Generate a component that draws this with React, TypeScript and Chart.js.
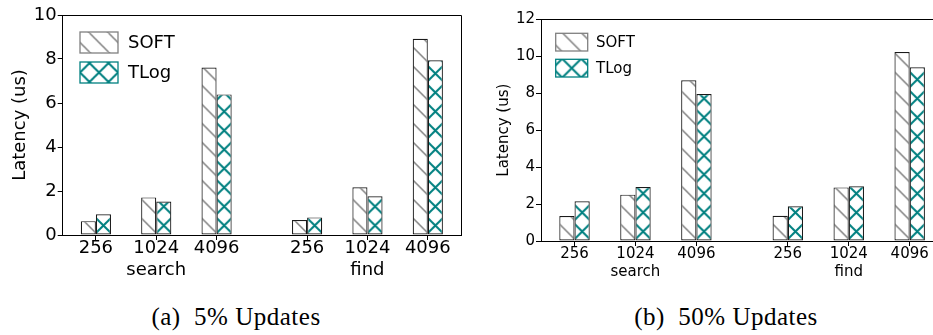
import React, { useEffect, useRef } from "react";
import { Chart, registerables } from "chart.js";

Chart.register(...registerables);

// ---- data ----
const groupPositions = [0, 1, 2, 3.5, 4.5, 5.5];
const sizeLabels = ["256", "1024", "4096", "256", "1024", "4096"];
const opLabels = ["", "search", "", "", "find", ""];
const seriesNames = ["SOFT", "TLog"];

const softA = [0.63, 1.71, 7.61, 0.68, 2.17, 8.92];
const tlogA = [0.94, 1.52, 6.39, 0.8, 1.76, 7.94];
const softB = [1.35, 2.51, 8.7, 1.37, 2.9, 10.23];
const tlogB = [2.15, 2.92, 7.96, 1.88, 2.96, 9.4];

const yTicksA = [0, 2, 4, 6, 8, 10];
const yTicksB = [0, 2, 4, 6, 8, 10, 12];

const captionA = "(a)  5% Updates";
const captionB = "(b)  50% Updates";

// ---- styles ----
const FONT = "'DejaVu Sans', sans-serif";
const PERIOD = 19;
const GRAY = "#808080";
const TEAL = "#008080";

function makeTile(kind: "diag" | "cross", color: string, lw: number): HTMLCanvasElement {
  const p = PERIOD;
  const c = document.createElement("canvas");
  c.width = p;
  c.height = p;
  const g = c.getContext("2d")!;
  g.fillStyle = "#ffffff";
  g.fillRect(0, 0, p, p);
  g.strokeStyle = color;
  g.lineWidth = lw;
  g.beginPath();
  for (const o of [-p, 0, p]) {
    g.moveTo(o, 0);
    g.lineTo(o + p, p);
  }
  if (kind === "cross") {
    for (const o of [-p, 0, p]) {
      g.moveTo(o, p);
      g.lineTo(o + p, 0);
    }
  }
  g.stroke();
  return c;
}

function barFill(tile: HTMLCanvasElement, side: number) {
  return (ctx: any) => {
    const chart = ctx.chart;
    const g = chart.ctx as CanvasRenderingContext2D;
    const pat = g.createPattern(tile, "repeat")!;
    const xs = chart.scales && chart.scales.x;
    const ys = chart.scales && chart.scales.y;
    if (!xs || !ys || ctx.type !== "data") return pat;
    const unit = xs.getPixelForValue(1) - xs.getPixelForValue(0);
    const cx = xs.getPixelForValue(groupPositions[ctx.dataIndex]) + (side * unit) / 8;
    const by = ys.getPixelForValue(0);
    pat.setTransform(new DOMMatrix([1, 0, 0, 1, cx - tile.width / 2, by]));
    return pat;
  };
}

interface Cfg {
  soft: number[];
  tlog: number[];
  yTicks: number[];
  yMax: number;
  fontSize: number;
  pad: { top: number; right: number };
  yWidth: number;
  xHeight: number;
  xTickPad: number;
  titlePad: number;
  legend: { x: number; y: number; w: number; h: number; gap: number; tx: number };
}

function makeChart(canvas: HTMLCanvasElement, cfg: Cfg) {
  const diag = makeTile("diag", GRAY, 1.5);
  const cross = makeTile("cross", TEAL, 2);
  const font = { family: FONT, size: cfg.fontSize, lineHeight: 1.2 };

  const spines = {
    id: "spines",
    afterDatasetsDraw(chart: any) {
      const { left, right, top, bottom } = chart.chartArea;
      const g = chart.ctx as CanvasRenderingContext2D;
      g.save();
      g.strokeStyle = "#000";
      g.lineWidth = 1;
      g.beginPath();
      g.moveTo(Math.round(left) - 0.5, Math.round(top) + 0.5);
      g.lineTo(Math.round(right) + 0.5, Math.round(top) + 0.5);
      g.lineTo(Math.round(right) + 0.5, Math.round(bottom) + 0.5);
      g.stroke();
      g.restore();
    },
  };

  const legend = {
    id: "hatchLegend",
    afterDraw(chart: any) {
      const g = chart.ctx as CanvasRenderingContext2D;
      const L = cfg.legend;
      const items = [
        { name: seriesNames[0], tile: diag, edge: GRAY },
        { name: seriesNames[1], tile: cross, edge: TEAL },
      ];
      g.save();
      items.forEach((it, i) => {
        const x = L.x;
        const y = L.y + i * L.gap;
        const pat = g.createPattern(it.tile, "repeat")!;
        pat.setTransform(new DOMMatrix([1, 0, 0, 1, x + L.w / 2 - PERIOD / 2, y + L.h / 2 - PERIOD / 2]));
        g.fillStyle = pat;
        g.fillRect(x, y, L.w, L.h);
        g.strokeStyle = it.edge;
        g.lineWidth = 1.3;
        g.strokeRect(x, y, L.w, L.h);
        g.fillStyle = "#000";
        g.font = `${cfg.fontSize}px ${FONT}`;
        g.textBaseline = "middle";
        g.textAlign = "left";
        g.fillText(it.name, L.tx, y + L.h / 2 + 1);
      });
      g.restore();
    },
  };

  const axisGrid = {
    display: true,
    offset: false,
    drawOnChartArea: false,
    drawTicks: true,
    tickLength: 5,
    color: "#000",
    lineWidth: 1,
  };
  const axisBorder = { display: true, color: "#000", width: 1 };

  return new Chart(canvas, {
    type: "bar",
    data: {
      datasets: [
        {
          label: seriesNames[0],
          data: groupPositions.map((x, i) => ({ x, y: cfg.soft[i] })),
          backgroundColor: barFill(diag, -1) as any,
          borderColor: "#1a1a1a",
          borderWidth: 1.2,
          borderSkipped: false,
        },
        {
          label: seriesNames[1],
          data: groupPositions.map((x, i) => ({ x, y: cfg.tlog[i] })),
          backgroundColor: barFill(cross, 1) as any,
          borderColor: "#1a1a1a",
          borderWidth: 1.2,
          borderSkipped: false,
        },
      ],
    },
    options: {
      responsive: false,
      maintainAspectRatio: false,
      animation: false,
      devicePixelRatio: 1,
      events: [],
      layout: { padding: { top: cfg.pad.top, right: cfg.pad.right, left: 0, bottom: 0 } },
      datasets: { bar: { categoryPercentage: 0.5, barPercentage: 1 } },
      plugins: { legend: { display: false }, tooltip: { enabled: false } },
      scales: {
        x: {
          type: "linear",
          offset: false,
          min: -0.55,
          max: 6.05,
          afterBuildTicks: (s: any) => {
            s.ticks = groupPositions.map((v) => ({ value: v }));
          },
          afterFit: (s: any) => {
            s.height = cfg.xHeight;
          },
          ticks: {
            font,
            color: "#000",
            padding: cfg.xTickPad,
            maxRotation: 0,
            autoSkip: false,
            callback: (_v: any, i: number) =>
              opLabels[i] ? [sizeLabels[i], opLabels[i]] : sizeLabels[i],
          },
          grid: axisGrid,
          border: axisBorder,
        },
        y: {
          type: "linear",
          min: 0,
          max: cfg.yMax,
          afterBuildTicks: (s: any) => {
            s.ticks = cfg.yTicks.map((v) => ({ value: v }));
          },
          afterFit: (s: any) => {
            s.width = cfg.yWidth;
          },
          ticks: { font, color: "#000", padding: 1, callback: (v: any) => String(v) },
          title: {
            display: true,
            text: "Latency (us)",
            font,
            color: "#000",
            padding: { top: cfg.titlePad, bottom: 0 },
          },
          grid: axisGrid,
          border: axisBorder,
        },
      },
    } as any,
    plugins: [spines, legend],
  });
}

export default function App() {
  const refA = useRef<HTMLCanvasElement>(null);
  const refB = useRef<HTMLCanvasElement>(null);

  useEffect(() => {
    const a = makeChart(refA.current!, {
      soft: softA,
      tlog: tlogA,
      yTicks: yTicksA,
      yMax: 10,
      fontSize: 18,
      pad: { top: 15, right: 9 },
      yWidth: 62.7,
      xHeight: 65,
      xTickPad: -2,
      titlePad: 9.7,
      legend: { x: 80, y: 32, w: 38, h: 21, gap: 30, tx: 128 },
    });
    const b = makeChart(refB.current!, {
      soft: softB,
      tlog: tlogB,
      yTicks: yTicksB,
      yMax: 12,
      fontSize: 15,
      pad: { top: 19.3, right: 6.8 },
      yWidth: 71,
      xHeight: 59,
      xTickPad: -0.5,
      titlePad: 25.5,
      legend: { x: 85.7, y: 33.3, w: 32, h: 17.7, gap: 26, tx: 126 },
    });
    return () => {
      a.destroy();
      b.destroy();
    };
  }, []);

  const capStyle: React.CSSProperties = {
    position: "absolute",
    top: 304,
    fontFamily: "'Liberation Serif', serif",
    fontSize: 25,
    letterSpacing: 0.5,
    lineHeight: "25px",
    whiteSpace: "pre",
    textAlign: "center",
    color: "#000",
  };

  return (
    <div
      style={{
        position: "absolute",
        left: 0,
        top: 0,
        width: 933,
        height: 335,
        overflow: "hidden",
        background: "#fff",
      }}
    >
      <canvas ref={refA} width={470} height={300} style={{ position: "absolute", left: 0, top: 0 }} />
      <canvas ref={refB} width={480} height={300} style={{ position: "absolute", left: 470, top: 0 }} />
      <div style={{ ...capStyle, left: 0, width: 472 }}>{captionA}</div>
      <div style={{ ...capStyle, left: 520, width: 412 }}>{captionB}</div>
    </div>
  );
}
